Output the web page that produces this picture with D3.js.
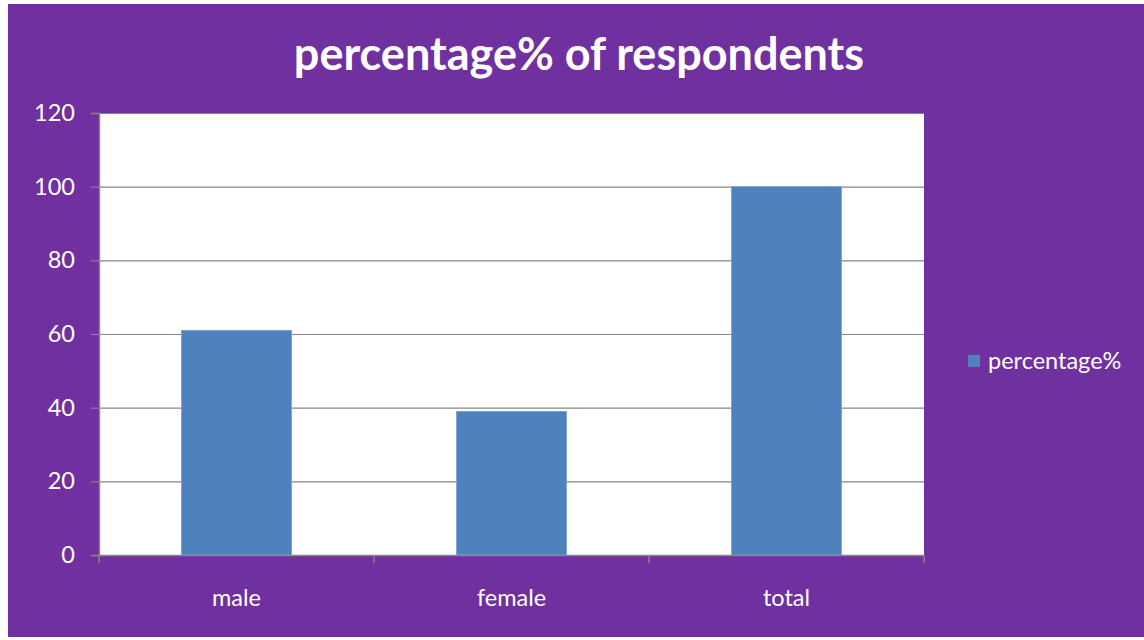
<!DOCTYPE html>
<html>
<head>
<meta charset="utf-8">
<script src="https://cdn.jsdelivr.net/npm/d3@7"></script>
<style>
  html, body { margin: 0; padding: 0; background: #ffffff; }
  svg { display: block; }
  text { font-family: Lato, "Open Sans", sans-serif; }
</style>
</head>
<body>
<svg id="chart" width="1144" height="640"></svg>
<script>
// Share of respondents by gender
const categories = ["male", "female", "total"];
const percentValues = [61, 39, 100];
const yTicks = [0, 20, 40, 60, 80, 100, 120];
const seriesName = "percentage%";
const chartTitle = "percentage% of respondents";

const W = 1144, H = 640;
const plot = { left: 99, top: 113, right: 924, bottom: 555 };
const purple = "#7030A0";
const barBlue = "#4F81BD";
const axisGray = "#868686";
const labelSize = 23.5;

const svg = d3.select("#chart");

// Outer chart background
svg.append("rect")
  .attr("x", 8).attr("y", 4)
  .attr("width", W - 8).attr("height", 633)
  .attr("fill", purple);

// Plot area
svg.append("rect")
  .attr("x", plot.left).attr("y", plot.top)
  .attr("width", plot.right - plot.left).attr("height", plot.bottom - plot.top)
  .attr("fill", "#ffffff");

const x = d3.scaleBand()
  .domain(categories)
  .range([plot.left, plot.right])
  .paddingInner(0.6)
  .paddingOuter(0.3);

const xGroup = d3.scaleBand()
  .domain(categories)
  .range([plot.left, plot.right])
  .padding(0);

const y = d3.scaleLinear()
  .domain([0, 120])
  .range([plot.bottom, plot.top]);

// Horizontal gridlines
svg.append("g")
  .selectAll("line")
  .data(yTicks.filter(t => t > 0))
  .join("line")
  .attr("x1", plot.left).attr("x2", plot.right)
  .attr("y1", d => y(d) + 0.5).attr("y2", d => y(d) + 0.5)
  .attr("stroke", axisGray)
  .attr("stroke-width", 1.2);

// Bars
svg.append("g")
  .selectAll("rect")
  .data(categories.map((c, i) => ({ c, v: percentValues[i] })))
  .join("rect")
  .attr("x", d => x(d.c))
  .attr("y", d => y(d.v))
  .attr("width", x.bandwidth())
  .attr("height", d => y(0) - y(d.v))
  .attr("fill", barBlue)
  .attr("stroke", "#7a9fd0")
  .attr("stroke-width", 0.8);

// Y axis
const yAxis = svg.append("g")
  .attr("transform", `translate(${plot.left},0)`)
  .call(d3.axisLeft(y).tickValues(yTicks).tickSize(8).tickPadding(16));
yAxis.select(".domain").attr("stroke", axisGray).attr("stroke-width", 1.5);
yAxis.selectAll(".tick line").attr("stroke", axisGray).attr("stroke-width", 1.2);
yAxis.selectAll(".tick text")
  .attr("fill", "#ffffff")
  .attr("font-size", labelSize)
  .attr("font-family", "Lato, 'Open Sans', sans-serif");

// X axis: category boundary ticks plus centered labels
const xAxis = svg.append("g")
  .attr("transform", `translate(0,${plot.bottom})`);
xAxis.append("line")
  .attr("x1", plot.left).attr("x2", plot.right)
  .attr("y1", 0.5).attr("y2", 0.5)
  .attr("stroke", axisGray).attr("stroke-width", 1.5);
const boundaries = categories.map(c => xGroup(c)).concat([plot.right]);
xAxis.selectAll("line.tick")
  .data(boundaries)
  .join("line")
  .attr("class", "tick")
  .attr("x1", d => d).attr("x2", d => d)
  .attr("y1", 0).attr("y2", 8)
  .attr("stroke", axisGray).attr("stroke-width", 1.5);
xAxis.selectAll("text")
  .data(categories)
  .join("text")
  .attr("x", d => xGroup(d) + xGroup.bandwidth() / 2)
  .attr("y", 51)
  .attr("text-anchor", "middle")
  .attr("fill", "#ffffff")
  .attr("font-size", labelSize)
  .text(d => d);

// Title
svg.append("text")
  .attr("x", 579)
  .attr("y", 70)
  .attr("text-anchor", "middle")
  .attr("fill", "#ffffff")
  .attr("font-size", 45)
  .attr("font-weight", "bold")
  .text(chartTitle);

// Legend
const legend = svg.append("g").attr("transform", "translate(968,355)");
legend.append("rect")
  .attr("width", 12).attr("height", 12)
  .attr("fill", barBlue);
legend.append("text")
  .attr("x", 20).attr("y", 14)
  .attr("fill", "#ffffff")
  .attr("font-size", labelSize)
  .text(seriesName);
</script>
</body>
</html>
